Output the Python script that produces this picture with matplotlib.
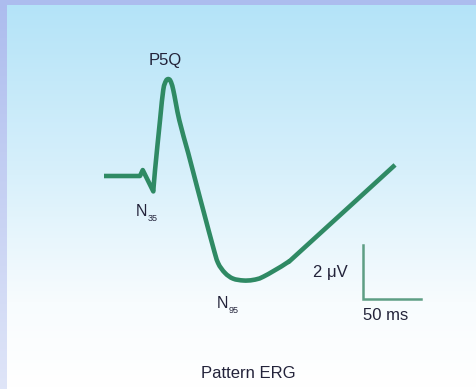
import numpy as np
import matplotlib
matplotlib.use("Agg")
import matplotlib.pyplot as plt
from matplotlib.colors import LinearSegmentedColormap
from matplotlib.path import Path
from matplotlib.patches import PathPatch

# Pattern ERG waveform: time (ms) vs amplitude (microvolts)
time_ms = [0.0, 31.0, 33.4, 42.5, 44.0, 48.3, 51.1, 53.4, 55.4, 57.3, 59.7,
           64.9, 72.6, 80.2, 86.2, 94.0, 98.3, 104.3, 111.2, 120.1, 128.4,
           137.3, 157.5, 169.0, 250.9]
amp_uv = [0.0, 0.0, 0.22, -0.57, 0.22, 2.07, 3.19, 3.52, 3.59, 3.52, 3.19,
          2.07, 0.85, -0.40, -1.37, -2.62, -3.22, -3.59, -3.80, -3.87, -3.85,
          -3.73, -3.22, -2.80, 0.41]
# indices where the trace has a sharp corner
corners = {1, 2, 3}

# Component labels: (text, subscript, time_ms, amp_uv)
components = [("P5Q", "", 52.6, 4.0),
              ("N", "35", 37.1, -1.31),
              ("N", "95", 106.9, -4.72)]

# Calibration bar
bar_origin = (223.3, -4.56)
bar_ms = 50
bar_uv = 2
bar_labels = ["50 ms", "2 \u03bcV"]
caption = "Pattern ERG"

W, H, DPI = 477, 389, 100
px_per_ms = 58 / 50
px_per_uv = 54 / 2
origin_px = (104, 176)

fig = plt.figure(figsize=(W / DPI, H / DPI), dpi=DPI)

# Background: lavender frame with a sky-blue to white panel
bg = fig.add_axes([0, 0, 1, 1])
bg.set_axis_off()
rows = np.linspace(0, 1, H)[:, None]
panel_cmap = LinearSegmentedColormap.from_list(
    "panel", [(0.0, "#b3e3f8"), (0.45, "#d8f0fb"), (0.78, "#f8fcfe"), (1.0, "#ffffff")])
frame_cmap = LinearSegmentedColormap.from_list("frame", ["#acbcee", "#dfe5f8"])
img = panel_cmap(np.repeat(rows, W, axis=1))
img[:, :7] = frame_cmap(np.repeat(rows, 7, axis=1))
img[:5, :] = frame_cmap(0.0)
bg.imshow(img, extent=(0, W, H, 0), aspect="auto", interpolation="bilinear")
bg.set_xlim(0, W)
bg.set_ylim(H, 0)

ax = fig.add_axes([0, 0, 1, 1])
ax.set_axis_off()
ax.patch.set_alpha(0)
ax.set_xlim(-origin_px[0] / px_per_ms, (W - origin_px[0]) / px_per_ms)
ax.set_ylim((origin_px[1] - H) / px_per_uv, origin_px[1] / px_per_uv)


def smooth_path(xs, ys, sharp):
    """Catmull-Rom curve through the samples, kept straight at sharp corners."""
    pts = np.column_stack([np.asarray(xs) * px_per_ms, np.asarray(ys) * px_per_uv])
    verts = [pts[0]]
    codes = [Path.MOVETO]
    n = len(pts)
    for i in range(n - 1):
        p0 = pts[max(i - 1, 0)]
        p1, p2 = pts[i], pts[i + 1]
        p3 = pts[min(i + 2, n - 1)]
        t1 = np.zeros(2) if i in sharp or i == 0 else (p2 - p0) / 6
        t2 = np.zeros(2) if (i + 1) in sharp or i + 1 == n - 1 else (p3 - p1) / 6
        verts += [p1 + t1, p2 - t2, p2]
        codes += [Path.CURVE4] * 3
    verts = np.array(verts)
    verts[:, 0] /= px_per_ms
    verts[:, 1] /= px_per_uv
    return Path(verts, codes)


ax.add_patch(PathPatch(smooth_path(time_ms, amp_uv, corners), fill=False,
                       edgecolor="#2f8a64", lw=3.3, joinstyle="round",
                       capstyle="butt"))

bx, by = bar_origin
ax.plot([bx, bx, bx + bar_ms], [by + bar_uv, by, by], color="#5e9e84", lw=1.8,
        solid_joinstyle="miter")

fam = ["Liberation Sans", "DejaVu Sans"]
tcol = "#23233a"
ax.text(bx, by - 0.33, bar_labels[0], family=fam, fontsize=12, color=tcol,
        ha="left", va="top")
ax.text(bx - 15 / px_per_ms, by + bar_uv / 2, bar_labels[1], family=fam,
        fontsize=12, color=tcol, ha="right", va="center")

for main, sub, t, a in components:
    if sub:
        txt = ax.text(t, a, main, family=fam, fontsize=11.5, color=tcol,
                      ha="right", va="center")
        ax.annotate(sub, xy=(1, 0), xycoords=txt, xytext=(0.5, 0.5),
                    textcoords="offset points", family=fam, fontsize=6.5,
                    color=tcol, ha="left", va="center")
    else:
        ax.text(t, a, main, family=fam, fontsize=12, color=tcol,
                ha="center", va="bottom")

fig.text(248 / W, 1 - 373 / H, caption, family=fam, fontsize=12, color=tcol,
         ha="center", va="center")

fig.savefig("out.png", dpi=DPI)
